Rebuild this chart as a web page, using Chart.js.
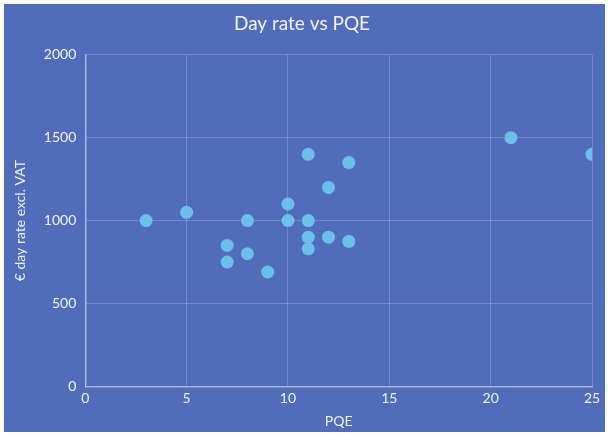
<!DOCTYPE html>
<html>
<head>
<meta charset="utf-8">
<script src="https://cdn.jsdelivr.net/npm/chart.js@4.4.1/dist/chart.umd.min.js"></script>
<style>
    html, body { margin: 0; padding: 0; background: #ffffff; }
    .chart-wrap {
        position: absolute;
        left: 4px;
        top: 4px;
        width: 601px;
        height: 428px;
        background: #506cbb;
    }
</style>
</head>
<body>
<div class="chart-wrap"><canvas id="scatterChart"></canvas></div>
<script>
// Data
const pqe = [3, 5, 7, 7, 8, 8, 9, 10, 10, 11, 11, 11, 11, 12, 12, 13, 13, 21, 25];
const dayRate = [1000, 1050, 850, 750, 1000, 800, 690, 1100, 1000, 1400, 1000, 900, 830, 1200, 900, 1350, 875, 1500, 1400];

const xTicks = [0, 5, 10, 15, 20, 25];
const yTicks = [0, 500, 1000, 1500, 2000];

(function () {
    if (typeof Chart === "undefined") return;

    const textColor = "rgba(255,255,255,0.92)";
    const fontFamily = "Lato, 'Open Sans', sans-serif";

    const points = pqe.map((x, i) => ({ x, y: dayRate[i] }));

    new Chart(document.getElementById("scatterChart"), {
        type: "scatter",
        data: {
            datasets: [
                {
                    label: "Day rate",
                    data: points,
                    pointRadius: 6.5,
                    pointHoverRadius: 6.5,
                    pointBackgroundColor: "#6cbfe9",
                    pointBorderWidth: 0,
                },
            ],
        },
        options: {
            responsive: true,
            maintainAspectRatio: false,
            animation: false,
            layout: { padding: { left: 8, right: 13, top: 4, bottom: 2 } },
            plugins: {
                legend: { display: false },
                tooltip: { enabled: false },
                title: {
                    display: true,
                    text: "Day rate vs PQE",
                    color: textColor,
                    font: { family: fontFamily, size: 19, weight: "normal" },
                    padding: { top: 4, bottom: 20 },
                },
            },
            scales: {
                x: {
                    type: "linear",
                    min: xTicks[0],
                    max: xTicks[xTicks.length - 1],
                    afterBuildTicks: (axis) => {
                        axis.ticks = xTicks.map((v) => ({ value: v }));
                    },
                    ticks: {
                        color: textColor,
                        font: { family: fontFamily, size: 14 },
                        padding: 4,
                        callback: (v) => String(v),
                    },
                    grid: {
                        color: "rgba(255,255,255,0.2)",
                        drawTicks: false,
                    },
                    border: { color: "rgba(255,255,255,0.45)", width: 1.5 },
                    title: {
                        display: true,
                        text: "PQE",
                        color: textColor,
                        font: { family: fontFamily, size: 14 },
                        padding: { top: 2, bottom: 0 },
                    },
                },
                y: {
                    type: "linear",
                    min: yTicks[0],
                    max: yTicks[yTicks.length - 1],
                    afterBuildTicks: (axis) => {
                        axis.ticks = yTicks.map((v) => ({ value: v }));
                    },
                    ticks: {
                        color: textColor,
                        font: { family: fontFamily, size: 14 },
                        padding: 9,
                        callback: (v) => String(v),
                    },
                    grid: {
                        color: "rgba(255,255,255,0.2)",
                        drawTicks: false,
                    },
                    border: { color: "rgba(255,255,255,0.45)", width: 1.5 },
                    title: {
                        display: true,
                        text: "€ day rate excl. VAT",
                        color: textColor,
                        font: { family: fontFamily, size: 14 },
                        padding: { top: 0, bottom: 6 },
                    },
                },
            },
        },
    });
})();
</script>
</body>
</html>
